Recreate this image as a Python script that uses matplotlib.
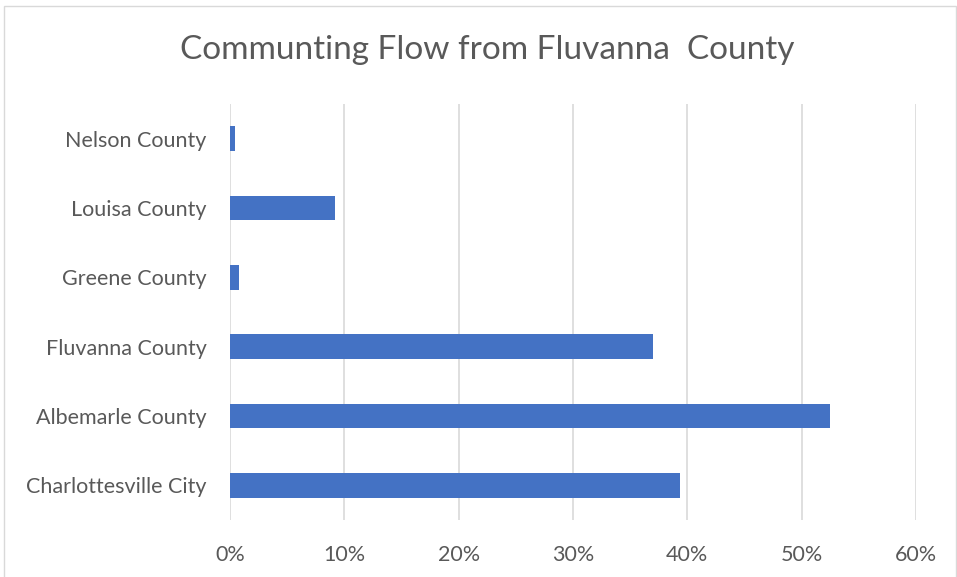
import matplotlib
matplotlib.use("Agg")
import matplotlib.pyplot as plt
from matplotlib.patches import Rectangle
from matplotlib.ticker import PercentFormatter

# values (share of commuters, %)
counties = ["Charlottesville City", "Albemarle County", "Fluvanna County",
            "Greene County", "Louisa County", "Nelson County"]
shares = [39.4, 52.5, 37.0, 0.8, 9.2, 0.4]
xticks = [0, 10, 20, 30, 40, 50, 60]

plt.rcParams['font.family'] = ['Lato', 'DejaVu Sans']
grey = '#595959'

fig = plt.figure(figsize=(9.57, 5.77), dpi=100)
ax = fig.add_axes([230 / 957, 57 / 577, (916 - 230) / 957, 416 / 577])

ax.barh(range(len(counties)), shares, height=0.36, color='#4472C4', zorder=3)

ax.set_xlim(0, 60)
ax.set_ylim(-0.5, len(counties) - 0.5)
ax.set_xticks(xticks)
ax.xaxis.set_major_formatter(PercentFormatter(decimals=0))
ax.set_yticks(range(len(counties)))
ax.set_yticklabels(counties)
ax.grid(axis='x', color='#D9D9D9', linewidth=1.2, zorder=0)
for s in ax.spines.values():
    s.set_visible(False)
ax.tick_params(axis='both', length=0, labelsize=15.5, colors=grey)
ax.tick_params(axis='x', pad=18)
ax.tick_params(axis='y', pad=17)

fig.text(487 / 957, 1 - 50 / 577, "Communting Flow from Fluvanna  County",
         ha='center', va='center', fontsize=24, color=grey)

fig.patches.append(Rectangle((4 / 957, -0.01), 952 / 957, 1 - 6 / 577 + 0.01,
                             transform=fig.transFigure, fill=False,
                             edgecolor='#D9D9D9', linewidth=1))

fig.savefig("out.png", dpi=100)
